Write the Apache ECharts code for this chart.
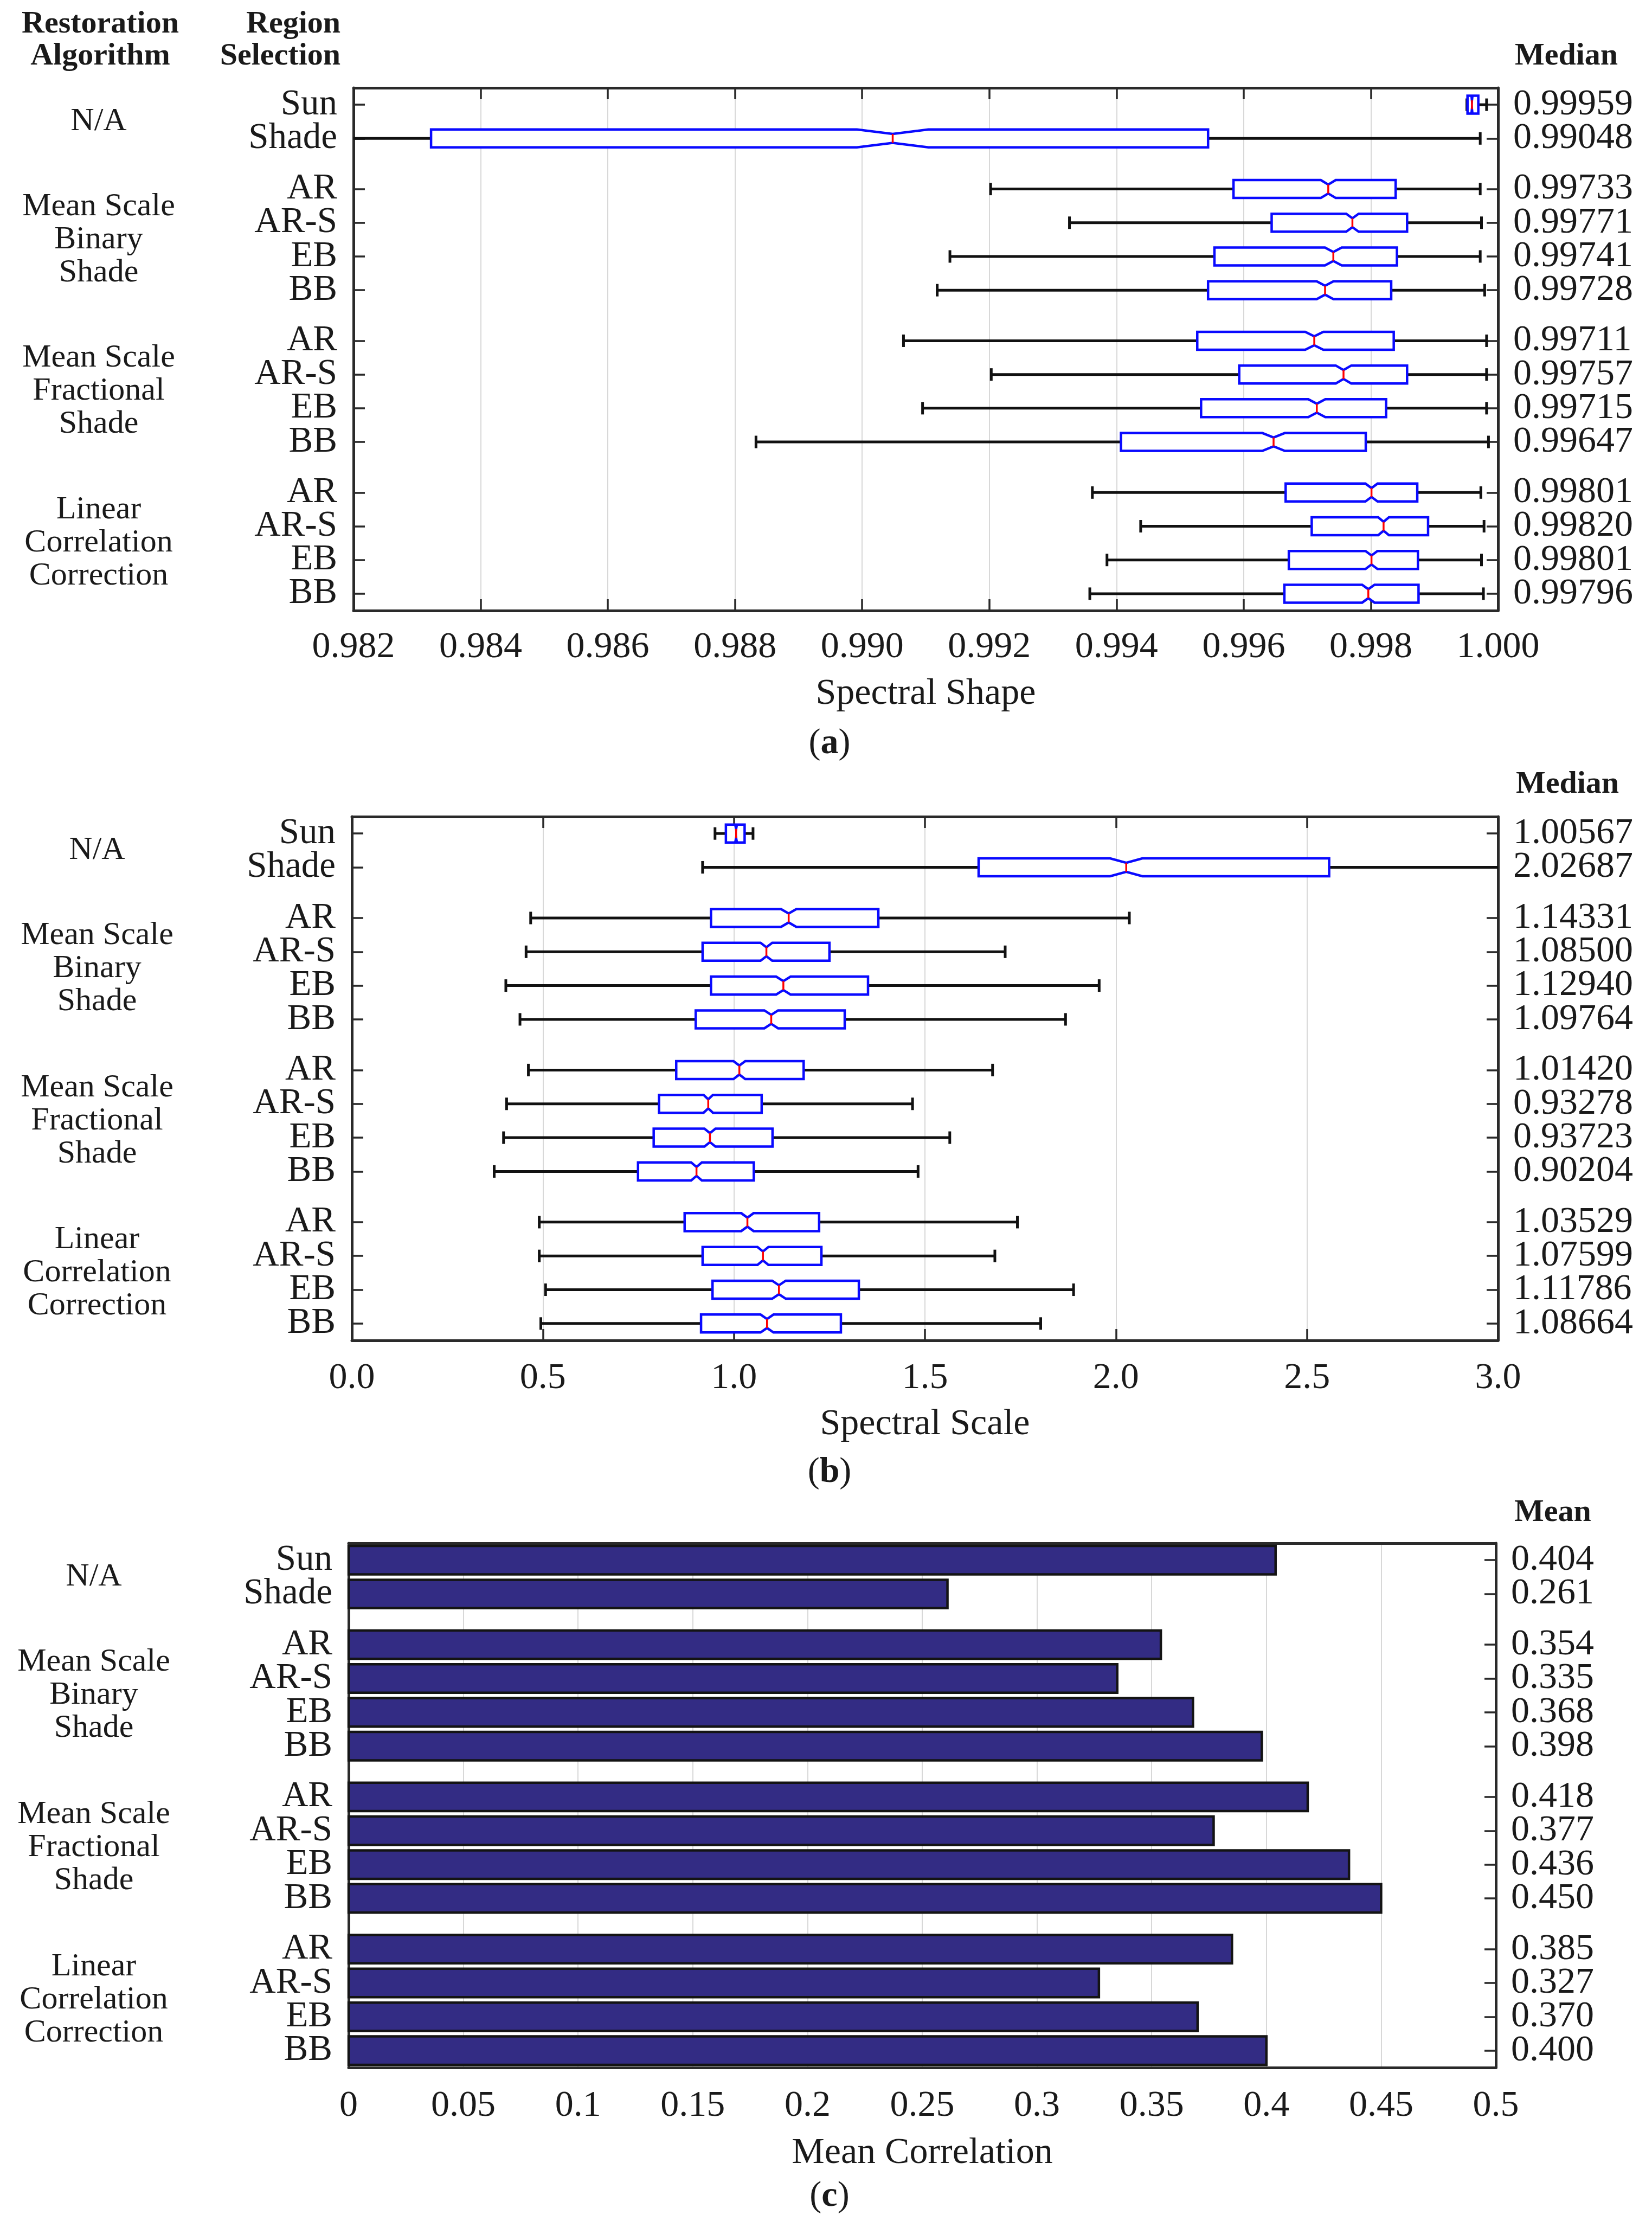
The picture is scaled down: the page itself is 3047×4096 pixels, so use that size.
<!DOCTYPE html>
<html>
<head>
<meta charset="utf-8">
<script src="https://cdn.jsdelivr.net/npm/echarts@6/dist/echarts.min.js"></script>
<style>
html,body{margin:0;padding:0;background:#ffffff;}
#chart{width:3047px;height:4096px;}
</style>
</head>
<body>
<div id="chart"></div>
<script>
// ---------------- DATA ----------------
const GROUP_NAMES = ['N/A', 'Mean Scale\nBinary\nShade', 'Mean Scale\nFractional\nShade', 'Linear\nCorrelation\nCorrection'];
const GROUP_ITEMS = [['Sun', 'Shade'], ['AR', 'AR-S', 'EB', 'BB'], ['AR', 'AR-S', 'EB', 'BB'], ['AR', 'AR-S', 'EB', 'BB']];

// (a) Spectral Shape box statistics
const SHAPE_LOW    = [0.99951, 0.98050, 0.99202, 0.99326, 0.99138, 0.99118, 0.99065, 0.99203, 0.99095, 0.98833, 0.99362, 0.99438, 0.99385, 0.99358];
const SHAPE_Q1     = [0.99952, 0.98322, 0.99584, 0.99644, 0.99554, 0.99544, 0.99527, 0.99593, 0.99533, 0.99407, 0.99666, 0.99707, 0.99671, 0.99664];
const SHAPE_MEDIAN = [0.99959, 0.99048, 0.99733, 0.99771, 0.99741, 0.99728, 0.99711, 0.99757, 0.99715, 0.99647, 0.99801, 0.99820, 0.99801, 0.99796];
const SHAPE_Q3     = [0.99969, 0.99544, 0.99839, 0.99857, 0.99841, 0.99832, 0.99836, 0.99857, 0.99824, 0.99792, 0.99873, 0.99890, 0.99874, 0.99875];
const SHAPE_HIGH   = [0.99982, 0.99972, 0.99972, 0.99974, 0.99972, 0.99979, 0.99982, 0.99982, 0.99982, 0.99985, 0.99973, 0.99978, 0.99974, 0.99977];
const SHAPE_TICKS  = ['0.982', '0.984', '0.986', '0.988', '0.990', '0.992', '0.994', '0.996', '0.998', '1.000'];

// (b) Spectral Scale box statistics
const SCALE_LOW    = [0.9505, 0.918, 0.468, 0.456, 0.403, 0.440, 0.462, 0.405, 0.397, 0.3725, 0.4905, 0.4905, 0.507, 0.4946];
const SCALE_Q1     = [0.979, 1.6405, 0.940, 0.918, 0.940, 0.900, 0.849, 0.804, 0.790, 0.749, 0.871, 0.918, 0.944, 0.914];
const SCALE_MEDIAN = [1.00567, 2.02687, 1.14331, 1.08500, 1.12940, 1.09764, 1.01420, 0.93278, 0.93723, 0.90204, 1.03529, 1.07599, 1.11786, 1.08664];
const SCALE_Q3     = [1.028, 2.558, 1.378, 1.250, 1.351, 1.290, 1.1825, 1.0726, 1.101, 1.052, 1.223, 1.229, 1.327, 1.280];
const SCALE_HIGH   = [1.050, 3.200, 2.035, 1.710, 1.956, 1.868, 1.677, 1.4675, 1.565, 1.482, 1.742, 1.683, 1.889, 1.803];
const SCALE_TICKS  = ['0.0', '0.5', '1.0', '1.5', '2.0', '2.5', '3.0'];

// (c) Mean correlation
const CORR_MEAN  = [0.404, 0.261, 0.354, 0.335, 0.368, 0.398, 0.418, 0.377, 0.436, 0.450, 0.385, 0.327, 0.370, 0.400];
const CORR_TICKS = ['0', '0.05', '0.1', '0.15', '0.2', '0.25', '0.3', '0.35', '0.4', '0.45', '0.5'];

// ---------------- LAYOUT (derived from category structure) ----------------
const ROW_NAMES = [];
const ROW_POS = [];
const GROUP_POS = [];
(function () {
  let p = 0;
  GROUP_ITEMS.forEach(items => {
    const start = p;
    items.forEach(name => { ROW_NAMES.push(name); ROW_POS.push(p); p += 1; });
    GROUP_POS.push((start + p - 1) / 2);
    p += 0.5;
  });
})();
const Y_MIN = -0.5, Y_MAX = ROW_POS[ROW_POS.length - 1] + 0.5;
// empty placeholder labels at both ends so ECharts' min/max overlap pruning never removes a real row label
const LABEL_POS = [Y_MIN + 0.01].concat(ROW_POS, [Y_MAX - 0.01]);

const FONT = '"Liberation Serif", "Times New Roman", serif';
const TEXT = '#1a1a1a';
const AXIS_COLOR = '#2a2a2a';
const BOX_HALF = 0.265;
const CAP_HALF = 0.185;
const NOTCH_DEPTH = 0.5;
const NOTCH_FACTOR = 0.046;

function boxItem(params, api) {
  const pos = api.value(0);
  const low = api.value(1), q1 = api.value(2), med = api.value(3), q3 = api.value(4), high = api.value(5);
  const cs = params.coordSys;
  const xMinPx = cs.x, xMaxPx = cs.x + cs.width;
  const X = v => api.coord([v, pos])[0];
  const yc = api.coord([med, pos])[1];
  const slot = Math.abs(api.size([1, 1])[1]);
  const hh = slot * BOX_HALF;
  const ins = hh * NOTCH_DEPTH;
  const capH = slot * CAP_HALF;
  const n = (q3 - q1) * NOTCH_FACTOR;
  const clampX = x => Math.max(xMinPx, Math.min(xMaxPx, x));
  const xl = X(low), xh = X(high), xq1 = X(q1), xq3 = X(q3), xm = X(med), xa = X(med - n), xb = X(med + n);
  const wStyle = { stroke: '#111111', lineWidth: 5 };
  const children = [
    { type: 'line', shape: { x1: clampX(xl), y1: yc, x2: xq1, y2: yc }, style: wStyle },
    { type: 'line', shape: { x1: xq3, y1: yc, x2: clampX(xh), y2: yc }, style: wStyle }
  ];
  if (xl >= xMinPx) children.push({ type: 'line', shape: { x1: xl, y1: yc - capH, x2: xl, y2: yc + capH }, style: wStyle });
  if (xh <= xMaxPx) children.push({ type: 'line', shape: { x1: xh, y1: yc - capH, x2: xh, y2: yc + capH }, style: wStyle });
  children.push({
    type: 'polygon',
    shape: { points: [[xq1, yc - hh], [xa, yc - hh], [xm, yc - hh + ins], [xb, yc - hh], [xq3, yc - hh],
                      [xq3, yc + hh], [xb, yc + hh], [xm, yc + hh - ins], [xa, yc + hh], [xq1, yc + hh]] },
    style: { fill: '#ffffff', stroke: '#0a0aff', lineWidth: 4.5 }
  });
  children.push({ type: 'line', shape: { x1: xm, y1: yc - hh + ins, x2: xm, y2: yc + hh - ins }, style: { stroke: '#ff0000', lineWidth: 3.5 } });
  return { type: 'group', children: children };
}

function barItem(params, api) {
  const pos = api.value(0), v = api.value(1);
  const p0 = api.coord([0, pos]), p1 = api.coord([v, pos]);
  const h = Math.abs(api.size([1, 1])[1]) * 0.84;
  return { type: 'rect', shape: { x: p0[0], y: p0[1] - h / 2, width: p1[0] - p0[0], height: h },
           style: { fill: '#332c84', stroke: '#141414', lineWidth: 4.5 } };
}

const grids = [], xAxes = [], yAxes = [], series = [];

function rowLabel(list) {
  return (v) => { const i = ROW_POS.indexOf(v); return i >= 0 ? list[i] : ''; };
}

function addPanel(cfg) {
  const g = grids.length;
  grids.push(cfg.grid);
  const xi = xAxes.length;
  const tickStyle = { color: AXIS_COLOR, width: 3.5 };
  xAxes.push({
    gridIndex: g, type: 'value', position: 'bottom', min: cfg.xMin, max: cfg.xMax, interval: cfg.xInterval,
    name: cfg.xName, nameLocation: 'middle', nameGap: cfg.nameGap,
    nameTextStyle: { fontFamily: FONT, fontSize: 68, color: TEXT },
    axisLine: { show: true, onZero: false, lineStyle: { color: AXIS_COLOR, width: 5 } },
    axisTick: { show: cfg.bottomTicks, inside: true, length: 21, lineStyle: tickStyle },
    axisLabel: { fontFamily: FONT, fontSize: 68, color: TEXT, margin: cfg.labelMargin,
                 showMinLabel: true, showMaxLabel: true,
                 formatter: (v) => cfg.xTicks[Math.round((v - cfg.xMin) / cfg.xInterval)] },
    splitLine: { show: true, lineStyle: { color: '#d8d8d8', width: 2 } }
  });
  xAxes.push({
    gridIndex: g, type: 'value', position: 'top', min: cfg.xMin, max: cfg.xMax, interval: cfg.xInterval,
    axisLine: { show: true, onZero: false, lineStyle: { color: AXIS_COLOR, width: 5 } },
    axisTick: { show: cfg.topTicks, inside: true, length: 21, lineStyle: tickStyle },
    axisLabel: { show: false }, splitLine: { show: false }
  });
  const yi = yAxes.length;
  const yBase = { gridIndex: g, type: 'value', min: Y_MIN, max: Y_MAX, inverse: true, splitLine: { show: false } };
  yAxes.push(Object.assign({}, yBase, {
    position: 'left',
    axisLine: { show: true, onZero: false, lineStyle: { color: AXIS_COLOR, width: 5 } },
    axisTick: { show: cfg.leftTicks, inside: true, length: 21, lineStyle: tickStyle, customValues: ROW_POS },
    axisLabel: { fontFamily: FONT, fontSize: 67, color: TEXT, margin: 30, customValues: LABEL_POS,
                 showMinLabel: false, showMaxLabel: false, hideOverlap: false,
                 formatter: rowLabel(ROW_NAMES) }
  }));
  yAxes.push(Object.assign({}, yBase, {
    position: 'right',
    axisLine: { show: true, onZero: false, lineStyle: { color: AXIS_COLOR, width: 5 } },
    axisTick: { show: true, inside: true, length: 21, lineStyle: tickStyle, customValues: ROW_POS },
    axisLabel: { fontFamily: FONT, fontSize: 68, color: TEXT, margin: 28, customValues: LABEL_POS,
                 showMinLabel: false, showMaxLabel: false, hideOverlap: false,
                 formatter: rowLabel(cfg.rightLabels) }
  }));
  yAxes.push(Object.assign({}, yBase, {
    position: 'left',
    axisLine: { show: false }, axisTick: { show: false },
    axisLabel: { fontFamily: FONT, fontSize: 60, lineHeight: 61, color: TEXT, margin: 470, align: 'center',
                 customValues: GROUP_POS, showMinLabel: true, showMaxLabel: true, hideOverlap: false,
                 formatter: (v) => { const i = GROUP_POS.indexOf(v); return i >= 0 ? GROUP_NAMES[i] : ''; } }
  }));
  series.push({
    type: 'custom', xAxisIndex: xi, yAxisIndex: yi, renderItem: cfg.render, data: cfg.data,
    encode: { x: cfg.xDims, y: 0 }, silent: true, z: 3
  });
}

function boxData(low, q1, med, q3, high) {
  return ROW_POS.map((p, i) => [p, low[i], q1[i], med[i], q3[i], high[i]]);
}

addPanel({
  grid: { left: 652, top: 162, width: 2111, height: 964 },
  xMin: 0.982, xMax: 1.0, xInterval: 0.002, xTicks: SHAPE_TICKS, xName: 'Spectral Shape',
  nameGap: 120, labelMargin: 34, topTicks: true, bottomTicks: true, leftTicks: true,
  rightLabels: SHAPE_MEDIAN.map(v => v.toFixed(5)),
  render: boxItem, data: boxData(SHAPE_LOW, SHAPE_Q1, SHAPE_MEDIAN, SHAPE_Q3, SHAPE_HIGH), xDims: [1, 2, 3, 4, 5]
});
addPanel({
  grid: { left: 649, top: 1506, width: 2114, height: 966 },
  xMin: 0, xMax: 3, xInterval: 0.5, xTicks: SCALE_TICKS, xName: 'Spectral Scale',
  nameGap: 121, labelMargin: 36, topTicks: true, bottomTicks: true, leftTicks: true,
  rightLabels: SCALE_MEDIAN.map(v => v.toFixed(5)),
  render: boxItem, data: boxData(SCALE_LOW, SCALE_Q1, SCALE_MEDIAN, SCALE_Q3, SCALE_HIGH), xDims: [1, 2, 3, 4, 5]
});
addPanel({
  grid: { left: 643, top: 2846, width: 2116, height: 967 },
  xMin: 0, xMax: 0.5, xInterval: 0.05, xTicks: CORR_TICKS, xName: 'Mean Correlation',
  nameGap: 124, labelMargin: 37, topTicks: false, bottomTicks: false, leftTicks: false,
  rightLabels: CORR_MEAN.map(v => v.toFixed(3)),
  render: barItem, data: ROW_POS.map((p, i) => [p, CORR_MEAN[i]]), xDims: [1]
});

function txt(text, x, y, size, weight, align) {
  return { type: 'text', x: x, y: y, silent: true,
    style: { text: text, fontFamily: FONT, fontSize: size, fontWeight: weight, fill: TEXT,
             align: align, textAlign: align, verticalAlign: 'middle', textVerticalAlign: 'middle', lineHeight: 59 } };
}
function panelLabel(letter, y) {
  return { type: 'text', x: 1530, y: y, silent: true,
    style: { text: '({b|' + letter + '})', fontFamily: FONT, fontSize: 66, fill: TEXT,
             align: 'center', textAlign: 'center', verticalAlign: 'middle', textVerticalAlign: 'middle',
             rich: { b: { fontFamily: FONT, fontSize: 66, fontWeight: 'bold', fill: TEXT } } } };
}

const graphics = [
  txt('Restoration\nAlgorithm', 185, 75, 58, 'bold', 'center'),
  txt('Region\nSelection', 628, 75, 58, 'bold', 'right'),
  txt('Median', 2794, 104, 58, 'bold', 'left'),
  txt('Median', 2796, 1447, 58, 'bold', 'left'),
  txt('Mean', 2793, 2790, 58, 'bold', 'left'),
  panelLabel('a', 1372),
  panelLabel('b', 2716),
  panelLabel('c', 4051)
];

const chart = echarts.init(document.getElementById('chart'), null, { renderer: 'canvas' });
chart.setOption({
  backgroundColor: '#ffffff',
  animation: false,
  grid: grids,
  xAxis: xAxes,
  yAxis: yAxes,
  series: series,
  graphic: graphics
});
</script>
</body>
</html>
